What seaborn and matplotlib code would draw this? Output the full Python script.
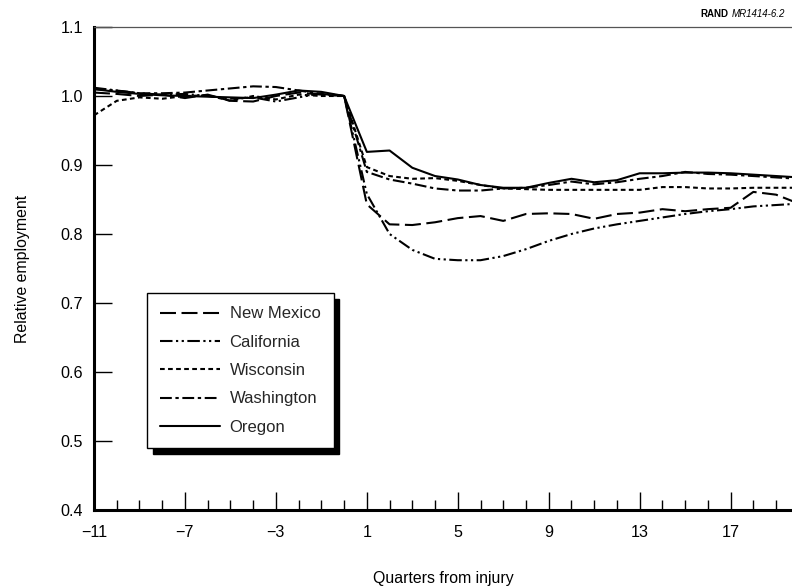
import numpy as np
import pandas as pd
import matplotlib
matplotlib.use("Agg")
import matplotlib.pyplot as plt
from matplotlib.ticker import MultipleLocator, FixedLocator, FormatStrFormatter
import seaborn as sns

# Relative employment of injured workers, by quarter from injury
quarters = list(range(-11, 21))

new_mexico = [1.005, 1.003, 1.000, 1.002, 0.997, 1.002, 0.993, 0.992, 1.000, 1.005, 1.002, 1.000,
              0.843, 0.814, 0.813, 0.817, 0.823, 0.826, 0.819, 0.829, 0.830, 0.829,
              0.822, 0.829, 0.831, 0.836, 0.833, 0.836, 0.838, 0.861, 0.857, 0.844]
california = [1.012, 1.008, 1.004, 1.002, 1.003, 1.000, 0.996, 0.998, 0.992, 0.998, 1.004, 1.000,
              0.858, 0.800, 0.777, 0.764, 0.762, 0.762, 0.768, 0.778, 0.790, 0.800,
              0.808, 0.814, 0.819, 0.824, 0.829, 0.833, 0.836, 0.840, 0.842, 0.844]
wisconsin = [0.972, 0.993, 0.998, 0.996, 1.000, 1.001, 0.993, 1.000, 0.995, 1.002, 1.000, 1.000,
             0.897, 0.884, 0.880, 0.881, 0.877, 0.871, 0.866, 0.865, 0.864, 0.864,
             0.864, 0.864, 0.864, 0.868, 0.868, 0.866, 0.866, 0.867, 0.867, 0.867]
washington = [1.010, 1.008, 1.004, 1.004, 1.005, 1.008, 1.011, 1.014, 1.013, 1.008, 1.003, 1.000,
              0.890, 0.879, 0.873, 0.866, 0.863, 0.863, 0.866, 0.867, 0.871, 0.876,
              0.872, 0.875, 0.880, 0.884, 0.890, 0.887, 0.886, 0.884, 0.882, 0.880]
oregon = [1.010, 1.006, 1.003, 1.001, 1.000, 0.999, 0.998, 0.997, 1.002, 1.008, 1.006, 1.000,
          0.919, 0.921, 0.896, 0.884, 0.879, 0.871, 0.867, 0.867, 0.874, 0.880,
          0.875, 0.878, 0.888, 0.888, 0.889, 0.889, 0.888, 0.886, 0.884, 0.882]

states = ["New Mexico", "California", "Wisconsin", "Washington", "Oregon"]
series = [new_mexico, california, wisconsin, washington, oregon]

x_major_ticks = [-11, -7, -3, 1, 5, 9, 13, 17]
y_ticks = [0.4, 0.5, 0.6, 0.7, 0.8, 0.9, 1.0, 1.1]

# dash patterns in points
line_styles = {
    "New Mexico": (0, (11.5, 4.0)),
    "California": (0, (9.0, 2.5, 1.6, 2.5, 1.6, 2.5)),
    "Wisconsin": (0, (3.4, 2.4)),
    "Washington": (0, (8.5, 2.6, 2.4, 2.6)),
    "Oregon": "-",
}

sns.set_theme(style="white")
plt.rcParams["font.family"] = ["Liberation Sans", "DejaVu Sans"]
plt.rcParams["lines.scale_dashes"] = False

fig = plt.figure(figsize=(7.92, 5.86), dpi=100)
ax = fig.add_axes([94 / 792, 1 - 510 / 586, 1 - 94 / 792, 483 / 586])

df = pd.DataFrame({"quarter": quarters})
for name, vals in zip(states, series):
    df[name] = vals

handles = []
for name in states:
    sns.lineplot(data=df, x="quarter", y=name, ax=ax, color="black",
                 linewidth=1.5, linestyle=line_styles[name], label=name,
                 legend=False)
    handles.append(ax.get_lines()[-1])

ax.set_xlim(-11, 19.7)
ax.set_ylim(0.4, 1.1)

ax.xaxis.set_major_locator(FixedLocator(x_major_ticks))
ax.xaxis.set_minor_locator(MultipleLocator(1))
ax.yaxis.set_major_locator(FixedLocator(y_ticks))
ax.yaxis.set_major_formatter(FormatStrFormatter("%.1f"))

ax.tick_params(axis="x", which="major", direction="in", length=13, width=1,
               color="black", labelsize=11.6, pad=11, bottom=True)
ax.tick_params(axis="x", which="minor", direction="in", length=7, width=1,
               color="black", bottom=True)
ax.tick_params(axis="y", which="major", direction="in", length=13, width=1,
               color="black", labelsize=11.6, pad=8, left=True)
ax.tick_params(labelcolor="black")

for side in ["left", "bottom"]:
    ax.spines[side].set_linewidth(2.2)
    ax.spines[side].set_color("black")
ax.spines["top"].set_linewidth(0.9)
ax.spines["top"].set_color("#555555")
ax.spines["right"].set_visible(False)

ax.set_xlabel("Quarters from injury", fontsize=11.4, labelpad=22, color="black")
ax.set_ylabel("Relative employment", fontsize=11.4, labelpad=22, color="black")

leg = ax.legend(handles=handles, labels=states, loc="upper left",
                bbox_to_anchor=((147 - 94) / 698, (510 - 293) / 483),
                borderaxespad=0, fontsize=12, handlelength=3.6,
                handletextpad=0.55, labelspacing=0.8, borderpad=0.8,
                frameon=True, fancybox=False, edgecolor="black",
                shadow={"ox": 4, "oy": -4, "color": "black", "alpha": 1})
leg.get_frame().set_linewidth(1.0)
leg.get_frame().set_facecolor("white")
leg.get_frame().set_alpha(1)

fig.text(700 / 792, 1 - 17 / 586, "RAND", fontsize=7, fontweight="bold",
         color="black", ha="left", va="baseline")
fig.text(732 / 792, 1 - 17 / 586, "MR1414-6.2", fontsize=7, style="italic",
         color="black", ha="left", va="baseline")

fig.savefig("out.png", dpi=100, facecolor="white")
